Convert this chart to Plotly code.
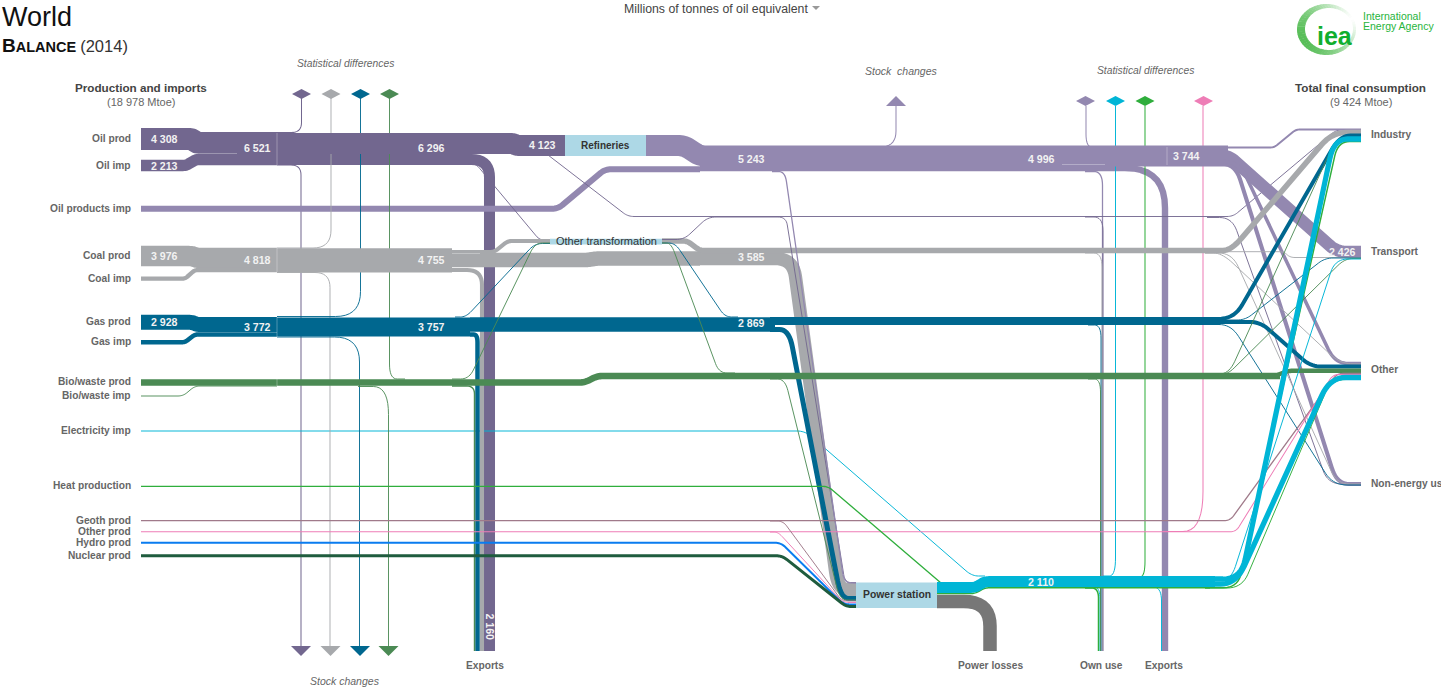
"""World energy balance 2014, drawn as a hand-routed Sankey on pixel-like axes."""

from __future__ import annotations

import numpy as np
import plotly.graph_objects as go

PX_PER_MTOE = 0.0051
FONT = "Liberation Sans"

CRUDE = "#72678F"
PRODUCTS = "#9388B0"
COAL = "#A7A9AC"
GAS = "#00678F"
BIO = "#4B8A54"
ELEC = "#00B5D6"
HEAT = "#2FAE3C"
GEOTH = "#A07A8A"
OTHER = "#EE7DB6"
HYDRO = "#0A7CF0"
NUCLEAR = "#1F5C3E"
LOSSES = "#777777"
NODE = "#ADD8E6"

# every flow: (Mtoe, corner radius, route through the diagram)
CRUDE_UNDER = [
    (2160, 18, [(277, 159.5), (489.5, 159.5), (489.5, 651)]),
    (200, 10, [(277, 132.5), (301.5, 132.5), (301.5, 97)]),
    (200, 10, [(277, 165), (301, 165), (301, 648)]),
]
CRUDE_MAIN = [
    (4308, 3, [(141, 139), (192, 139), (197, 143), (277, 143)]),
    (2213, 3, [(141, 165.5), (186, 165.5), (196, 159.5), (277, 159.5)]),
    (4123, 3, [(277, 143.5), (513, 143.5), (517, 145.5), (565, 145.5)]),
    (180, 6, [(468, 164), (476, 164), (540, 240.5), (552, 240.5)]),
    (180, 6, [(548, 155), (628, 216.5), (1233, 216.5), (1336, 130), (1361, 129.5)]),
    (180, 14, [(1085, 217), (1103, 217), (1103, 651)]),
    (180, 14, [(1207, 217.5), (1232, 217.5), (1328, 484), (1361, 484)]),
]
CRUDE_TO_POWER = [
    (180, 8, [(662, 239.5), (684, 239.5), (708, 217), (786, 217), (845, 582.5), (856, 582.5)]),
]
PRODUCTS_UNDER = [
    (1252, 40, [(700, 168), (1165, 168), (1165, 651)]),
    (1170, 6, [(141, 208.7), (558, 208.7), (605, 169.3), (700, 169.3)]),
]
PRODUCTS_THIN = [
    (200, 16, [(860, 147), (896, 147), (896, 106)]),
    (200, 13, [(1098, 147), (1086, 147), (1086, 106)]),
    (250, 14, [(1085, 171.5), (1102.5, 171.5), (1102.5, 651)]),
]
PRODUCTS_TO_POWER = [
    (250, 10, [(772, 171.5), (785, 171.5), (844, 582.5), (856, 583)]),
]
PRODUCTS_MAIN = [
    (4123, 6, [(646, 145.5), (684, 145.5), (700, 156), (1228, 156)]),
    (390, 4, [(1167, 147.5), (1274, 147.5), (1296, 129.5), (1361, 129.5)]),
    (2426, 10, [(1200, 155), (1228, 155), (1337, 252), (1361, 252)]),
    (800, 16, [(1205, 163.5), (1235, 163.5), (1337, 484), (1361, 484)]),
    (690, 16, [(1205, 161.5), (1239, 161.5), (1335, 363.5), (1361, 363.5)]),
]
COAL_FLOWS = [
    (180, 18, [(277, 248), (331, 248), (331, 97)]),
    (180, 15, [(277, 272.5), (330, 272.5), (330, 648)]),
    (800, 15, [(452, 270), (482, 270), (482, 651)]),
    (3976, 3, [(141, 256), (192, 256), (197, 258), (277, 258)]),
    (842, 3, [(141, 278.7), (185, 278.7), (195, 270), (277, 270)]),
    (4755, 3, [(277, 260.3), (452, 260.3)]),
    (2860, 3, [(452, 260), (587, 260), (597, 258.5), (700, 258.5)]),
    (2610, 18, [(700, 258.5), (793, 258.5), (838, 589.5), (856, 589.5)]),
    (800, 4, [(452, 252), (494, 252), (508, 241), (550, 241)]),
    (1080, 4, [(662, 241), (687, 241), (700, 250.5), (1215, 250.5)]),
    (1080, 16, [(1215, 250.5), (1231, 250.5), (1332, 132.5), (1361, 132.5)]),
    (180, 5, [(1225, 251.7), (1284, 251.7), (1290, 257.5), (1361, 257.5)]),
    (180, 14, [(1085, 253), (1102, 253), (1102, 651)]),
    (180, 15, [(1205, 253), (1232, 253), (1337, 484), (1361, 484)]),
    (180, 15, [(1205, 253), (1222, 253), (1340, 363.5), (1361, 364)]),
]
GAS_FLOWS = [
    (180, 25, [(277, 316.5), (360.5, 316.5), (360.5, 97)]),
    (180, 25, [(277, 337), (359.5, 337), (359.5, 648)]),
    (880, 8, [(470, 334.5), (477.5, 334.5), (477.5, 651)]),
    (2928, 3, [(141, 322.3), (192, 322.3), (197, 324.5), (277, 324.5)]),
    (880, 3, [(141, 342.2), (185, 342.2), (195, 334.5), (277, 334.5)]),
    (3757, 3, [(277, 327), (470, 327)]),
    (2869, 3, [(470, 324.5), (775, 324.5)]),
    (1570, 3, [(770, 321), (1220, 321)]),
    (980, 18, [(770, 329.5), (789, 329.5), (841, 598.5), (856, 598.5)]),
    (180, 8, [(455, 317), (466, 317), (535, 243.5), (550, 243.5)]),
    (180, 8, [(662, 243), (675, 243), (725, 317), (738, 317)]),
    (180, 13, [(1088, 325), (1101, 325), (1101, 651)]),
    (780, 16, [(1200, 319), (1234, 319), (1340, 135.5), (1361, 135.5)]),
    (780, 10, [(1200, 322), (1260, 322), (1311, 366.5), (1361, 366.5)]),
    (180, 14, [(1207, 324.5), (1231, 324.5), (1333, 485), (1361, 485)]),
    (180, 8, [(1215, 320), (1245, 320), (1325, 258), (1361, 258)]),
]
BIO_FLOWS = [
    (180, 15, [(405, 379), (389.5, 379), (389.5, 97)]),
    (180, 28, [(358, 386.5), (388.5, 386.5), (388.5, 648)]),
    (280, 8, [(452, 386), (474.5, 386), (474.5, 651)]),
    (1300, 6, [(141, 382.5), (585, 382.5), (597, 376), (1280, 376)]),
    (880, 6, [(1275, 376), (1288, 370.7), (1361, 370.7)]),
    (180, 5, [(141, 396), (183, 396), (195, 386), (277, 386)]),
    (180, 10, [(452, 379), (469, 379), (535, 243), (550, 243)]),
    (180, 10, [(662, 243), (671, 243), (719, 373), (735, 373)]),
    (180, 12, [(770, 379), (785, 379), (840, 600), (856, 600)]),
    (180, 13, [(1088, 379), (1100.5, 379), (1100.5, 651)]),
    (180, 14, [(1210, 374), (1229, 374), (1335, 141), (1361, 141)]),
    (180, 10, [(1210, 375), (1227, 375), (1345, 258.5), (1361, 258.5)]),
]
RENEWABLE_THIN = [
    (GEOTH, 255, 6, [(141, 520.7), (1230, 520.7), (1337, 373.5), (1361, 373.5)]),
    (OTHER, 200, 6, [(141, 531.7), (1236, 531.7), (1333, 374.5), (1361, 374.5)]),
    (GEOTH, 190, 6, [(770, 521), (783, 521), (842, 601), (856, 601)]),
    (OTHER, 190, 6, [(770, 532), (778, 532), (843, 602.5), (856, 602.5)]),
    (HYDRO, 390, 6, [(141, 542.8), (781, 542.8), (843, 604), (856, 604.5)]),
    (NUCLEAR, 590, 6, [(141, 555.7), (782, 555.7), (846, 606.5), (856, 606.5)]),
    (OTHER, 200, 40, [(1163, 531.5), (1203, 531.5), (1203, 106)]),
]
HEAT_FLOWS = [
    (255, 6, [(141, 486.3), (828, 486.3), (941, 583)]),
    (290, 4, [(937, 593.5), (975, 593.5), (985, 587.8), (1210, 587.8)]),
    (200, 16, [(1135, 577), (1145, 577), (1145, 106)]),
    (290, 10, [(1085, 588), (1098.5, 588), (1098.5, 651)]),
    (290, 15, [(1205, 587.8), (1238, 587.8), (1338, 141.5), (1361, 141.5)]),
    (190, 15, [(1205, 588), (1242, 588), (1331, 379.5), (1361, 379.5)]),
]
ELEC_FLOWS = [
    (190, 8, [(141, 431), (805, 431), (972, 576), (985, 576)]),
    (190, 18, [(1103, 576), (1115.5, 576), (1115.5, 106)]),
    (190, 12, [(1088, 587), (1100, 587), (1100, 651)]),
    (190, 14, [(1145, 587), (1161.5, 587), (1161.5, 651)]),
    (2110, 4, [(937, 587.5), (975, 587.5), (985, 581.5), (1215, 581.5)]),
    (1030, 20, [(1205, 579), (1241, 579), (1334, 139), (1361, 139)]),
    (1030, 20, [(1205, 584.2), (1236, 584.2), (1330, 377.5), (1361, 377.5)]),
    (190, 14, [(1210, 580), (1231, 580), (1335, 259), (1361, 259)]),
]
LOSS_FLOWS = [(2650, 26, [(937, 601.5), (990, 601.5), (990, 651)])]

SEAMS = [
    [(277, 133), (277, 165)], [(185, 153.5), (237, 153.5)], [(277, 248), (277, 272)],
    [(452, 253.5), (480, 253.5)], [(277, 317), (277, 337)], [(1062, 164.5), (1105, 164.5)],
    [(1167, 147), (1167, 165)], [(277, 379), (277, 386)],
]

SOURCE_LABELS = [
    "Oil prod", "Oil imp", "Oil products imp", "Coal prod", "Coal imp", "Gas prod", "Gas imp",
    "Bio/waste prod", "Bio/waste imp", "Electricity imp", "Heat production", "Geoth prod",
    "Other prod", "Hydro prod", "Nuclear prod",
]
SOURCE_LABEL_Y = [138.5, 165.5, 208.5, 255.5, 278.5, 321.5, 341.5, 381.5, 395.5, 430.5, 485.5, 520.5, 531.5, 542.5, 555.5]
SINK_LABELS = ["Industry", "Transport", "Other", "Non-energy use"]
SINK_LABEL_Y = [134.5, 251.5, 369.5, 483.5]
EXIT_LABELS = ["Exports", "Power losses", "Own use", "Exports"]
EXIT_LABEL_X = [485, 990, 1101, 1164]
BAND_LABELS = [
    ("4 308", 164.5, 138.5), ("2 213", 164.5, 165.5), ("6 521", 257, 147.5), ("6 296", 431, 148),
    ("4 123", 542, 145), ("5 243", 751, 159), ("4 996", 1041, 158.5), ("3 744", 1186, 155.5),
    ("2 426", 1342, 251.5), ("3 976", 164, 255.5), ("4 818", 257, 259.5), ("4 755", 431, 259.5),
    ("3 585", 751, 256.5), ("2 928", 164, 321.5), ("3 772", 257, 326.5), ("3 757", 431, 326.5),
    ("2 869", 751, 323), ("2 110", 1041, 581.5),
]
DIAMONDS = [
    (301.5, 94, CRUDE), (331, 94, COAL), (360.5, 94, GAS), (389.5, 94, BIO),
    (1085.5, 101, PRODUCTS), (1115.5, 101, ELEC), (1145, 101, HEAT), (1203.5, 101, OTHER),
]
DOWN_ARROWS = [(301, CRUDE), (330.5, COAL), (360, GAS), (388.5, BIO)]
NODES = [
    ("Refineries", 565, 646, 135, 156, 10, True),
    ("Other transformation", 550, 662, 238.7, 244.5, 11, False),
    ("Power station", 856, 937, 582.5, 608, 10.4, True),
]


def rounded(points: list[tuple[float, float]], radius: float) -> tuple[list[float], list[float]]:
    """Cut each inner corner of a route with a small quadratic curve."""
    pts = np.array(points, dtype=float)
    xs, ys = [pts[0, 0]], [pts[0, 1]]
    for before, corner, after in zip(pts[:-2], pts[1:-1], pts[2:]):
        into, out = before - corner, after - corner
        cut_in = min(radius, np.linalg.norm(into) / 2)
        cut_out = min(radius, np.linalg.norm(out) / 2)
        start = corner + into / np.linalg.norm(into) * cut_in
        end = corner + out / np.linalg.norm(out) * cut_out
        for t in np.linspace(0, 1, 10):
            p = (1 - t) ** 2 * start + 2 * t * (1 - t) * corner + t**2 * end
            xs.append(p[0])
            ys.append(p[1])
    xs.append(pts[-1, 0])
    ys.append(pts[-1, 1])
    return xs, ys


fig = go.Figure()


def add_flow(colour: str, mtoe: float, radius: float, route: list[tuple[float, float]]) -> None:
    xs, ys = rounded(route, radius)
    fig.add_trace(
        go.Scatter(
            x=xs,
            y=ys,
            mode="lines",
            line=dict(color=colour, width=mtoe * PX_PER_MTOE, simplify=False),
            hovertemplate=f"{mtoe:,} Mtoe<extra></extra>",
        )
    )


def add_flows(colour: str, flows: list) -> None:
    for mtoe, radius, route in flows:
        add_flow(colour, mtoe, radius, route)


def add_polygon(xs: list[float], ys: list[float], colour: str) -> None:
    fig.add_trace(
        go.Scatter(
            x=xs, y=ys, mode="lines", fill="toself", fillcolor=colour,
            line=dict(width=0, color=colour, simplify=False), hoverinfo="skip",
        )
    )


def add_text(x, y, text, size=10, colour="#666666", anchor="center", bold=False, italic=False, angle=0) -> None:
    if bold:
        text = f"<b>{text}</b>"
    if italic:
        text = f"<i>{text}</i>"
    fig.add_annotation(
        x=x, y=y, text=text, showarrow=False, xanchor=anchor, yanchor="middle", textangle=angle,
        font=dict(family=FONT, size=size, color=colour),
    )


add_flows(CRUDE, CRUDE_UNDER)
add_flows(PRODUCTS, PRODUCTS_UNDER)
add_flows(PRODUCTS, PRODUCTS_THIN)
add_flows(ELEC, ELEC_FLOWS[:4])
add_flows(HEAT, HEAT_FLOWS[2:4])
add_flow(OTHER, *RENEWABLE_THIN[-1][1:])
add_flows(COAL, COAL_FLOWS[:3])
add_flows(GAS, GAS_FLOWS[:3])
add_flows(BIO, BIO_FLOWS[:3])
add_flows(CRUDE, CRUDE_MAIN)
add_flows(PRODUCTS, PRODUCTS_MAIN)
add_flows(COAL, COAL_FLOWS[3:])
add_flows(CRUDE, CRUDE_TO_POWER)
add_flows(PRODUCTS, PRODUCTS_TO_POWER)
add_flows(GAS, GAS_FLOWS[3:])
add_flows(BIO, BIO_FLOWS[3:])
for colour, mtoe, radius, route in RENEWABLE_THIN[:-1]:
    add_flow(colour, mtoe, radius, route)
add_flows(LOSSES, LOSS_FLOWS)
add_flows(HEAT, HEAT_FLOWS[:2] + HEAT_FLOWS[4:])
add_flows(ELEC, ELEC_FLOWS[4:])

for seam in SEAMS:
    fig.add_trace(
        go.Scatter(
            x=[p[0] for p in seam], y=[p[1] for p in seam], mode="lines",
            line=dict(color="rgba(255,255,255,0.3)", width=1), hoverinfo="skip",
        )
    )

# arrow heads at the ends of the stock and statistical lines
for x, y, colour in DIAMONDS:
    add_polygon([x - 9.5, x, x + 9.5, x, x - 9.5], [y, y - 5, y, y + 5, y], colour)
for x, colour in DOWN_ARROWS:
    add_polygon([x - 10, x + 10, x, x - 10], [646, 646, 656, 646], colour)
add_polygon([886, 906, 896, 886], [106, 106, 96, 106], PRODUCTS)
add_polygon([812, 820, 816, 812], [6, 6, 10, 6], "#999999")

for name, x0, x1, y0, y1, size, bold in NODES:
    fig.add_shape(type="rect", x0=x0, x1=x1, y0=y0, y1=y1, fillcolor=NODE, line_width=0, layer="above")
    add_text((x0 + x1) / 2, (y0 + y1) / 2 - 0.5, name, size=size, colour="#333333", bold=bold)

# IEA logo: crescent fading from green to white
angles = np.radians(np.arange(0, 360, 6))
for a0 in angles:
    a1 = a0 + np.radians(7)
    t = np.linspace(a0, a1, 4)
    strength = max(0.0, 0.5 + 0.5 * np.cos(a0 - np.radians(150)))
    shade = [int(255 + (c - 255) * strength**0.7) for c in (88, 190, 88)]
    outer_x, outer_y = 1326.5 + 29.5 * np.cos(t), 29.5 + 25.5 * np.sin(t)
    inner_x, inner_y = 1329 + 24 * np.cos(t[::-1]), 29 + 21 * np.sin(t[::-1])
    add_polygon(list(outer_x) + list(inner_x), list(outer_y) + list(inner_y), f"rgb({shade[0]},{shade[1]},{shade[2]})")
add_text(1334.5, 36, "iea", size=25, colour="#10AE2E", bold=True)
add_text(1361, 16, "International", size=10.5, colour="#27B43C", anchor="left")
add_text(1361, 26, "Energy Agency", size=10.5, colour="#27B43C", anchor="left")

add_text(0, 17, "World", size=27, colour="#111111", anchor="left")
add_text(
    0, 45,
    '<b><span style="font-size:19px">B</span>ALANCE</b> <span style="color:#333333;font-size:16.5px">(2014)</span>',
    size=14.5, colour="#111111", anchor="left",
)
add_text(716, 9, "Millions of tonnes of oil equivalent", size=12.3, colour="#444444")

add_text(141, 87.5, "Production and imports", size=11.7, colour="#444444", bold=True)
add_text(141, 102, "(18 978 Mtoe)", size=11)
add_text(1360, 87.5, "Total final consumption", size=11.7, colour="#444444", bold=True)
add_text(1361, 102, "(9 424 Mtoe)", size=11)
add_text(345.5, 63.5, "Statistical differences", size=10.3, italic=True)
add_text(901, 70.5, "Stock&nbsp; changes", size=10.5, italic=True)
add_text(1145, 70.5, "Statistical differences", size=10.3, italic=True)
add_text(345, 680.5, "Stock changes", size=10.5, italic=True)

for label, y in zip(SOURCE_LABELS, SOURCE_LABEL_Y):
    add_text(133, y, label, size=10.2, anchor="right", bold=True)
for label, y in zip(SINK_LABELS, SINK_LABEL_Y):
    add_text(1369, y, label, size=10.2, anchor="left", bold=True)
for label, x in zip(EXIT_LABELS, EXIT_LABEL_X):
    add_text(x, 665, label, size=10.2, bold=True)
for text, x, y in BAND_LABELS:
    add_text(x, y, text, size=10.6, colour="#F2F2F2", bold=True)
add_text(489.5, 627, "2 160", size=10.6, colour="#F2F2F2", bold=True, angle=90)

fig.update_layout(
    width=1441,
    height=699,
    margin=dict(l=0, r=0, t=0, b=0),
    paper_bgcolor="white",
    plot_bgcolor="white",
    showlegend=False,
    xaxis=dict(range=[0, 1441], visible=False, fixedrange=True),
    yaxis=dict(range=[699, 0], visible=False, fixedrange=True),
)

fig.write_html(
    "out.html",
    config={"displayModeBar": False},
    post_script="document.body.style.margin='0';document.body.style.overflow='hidden';",
)
